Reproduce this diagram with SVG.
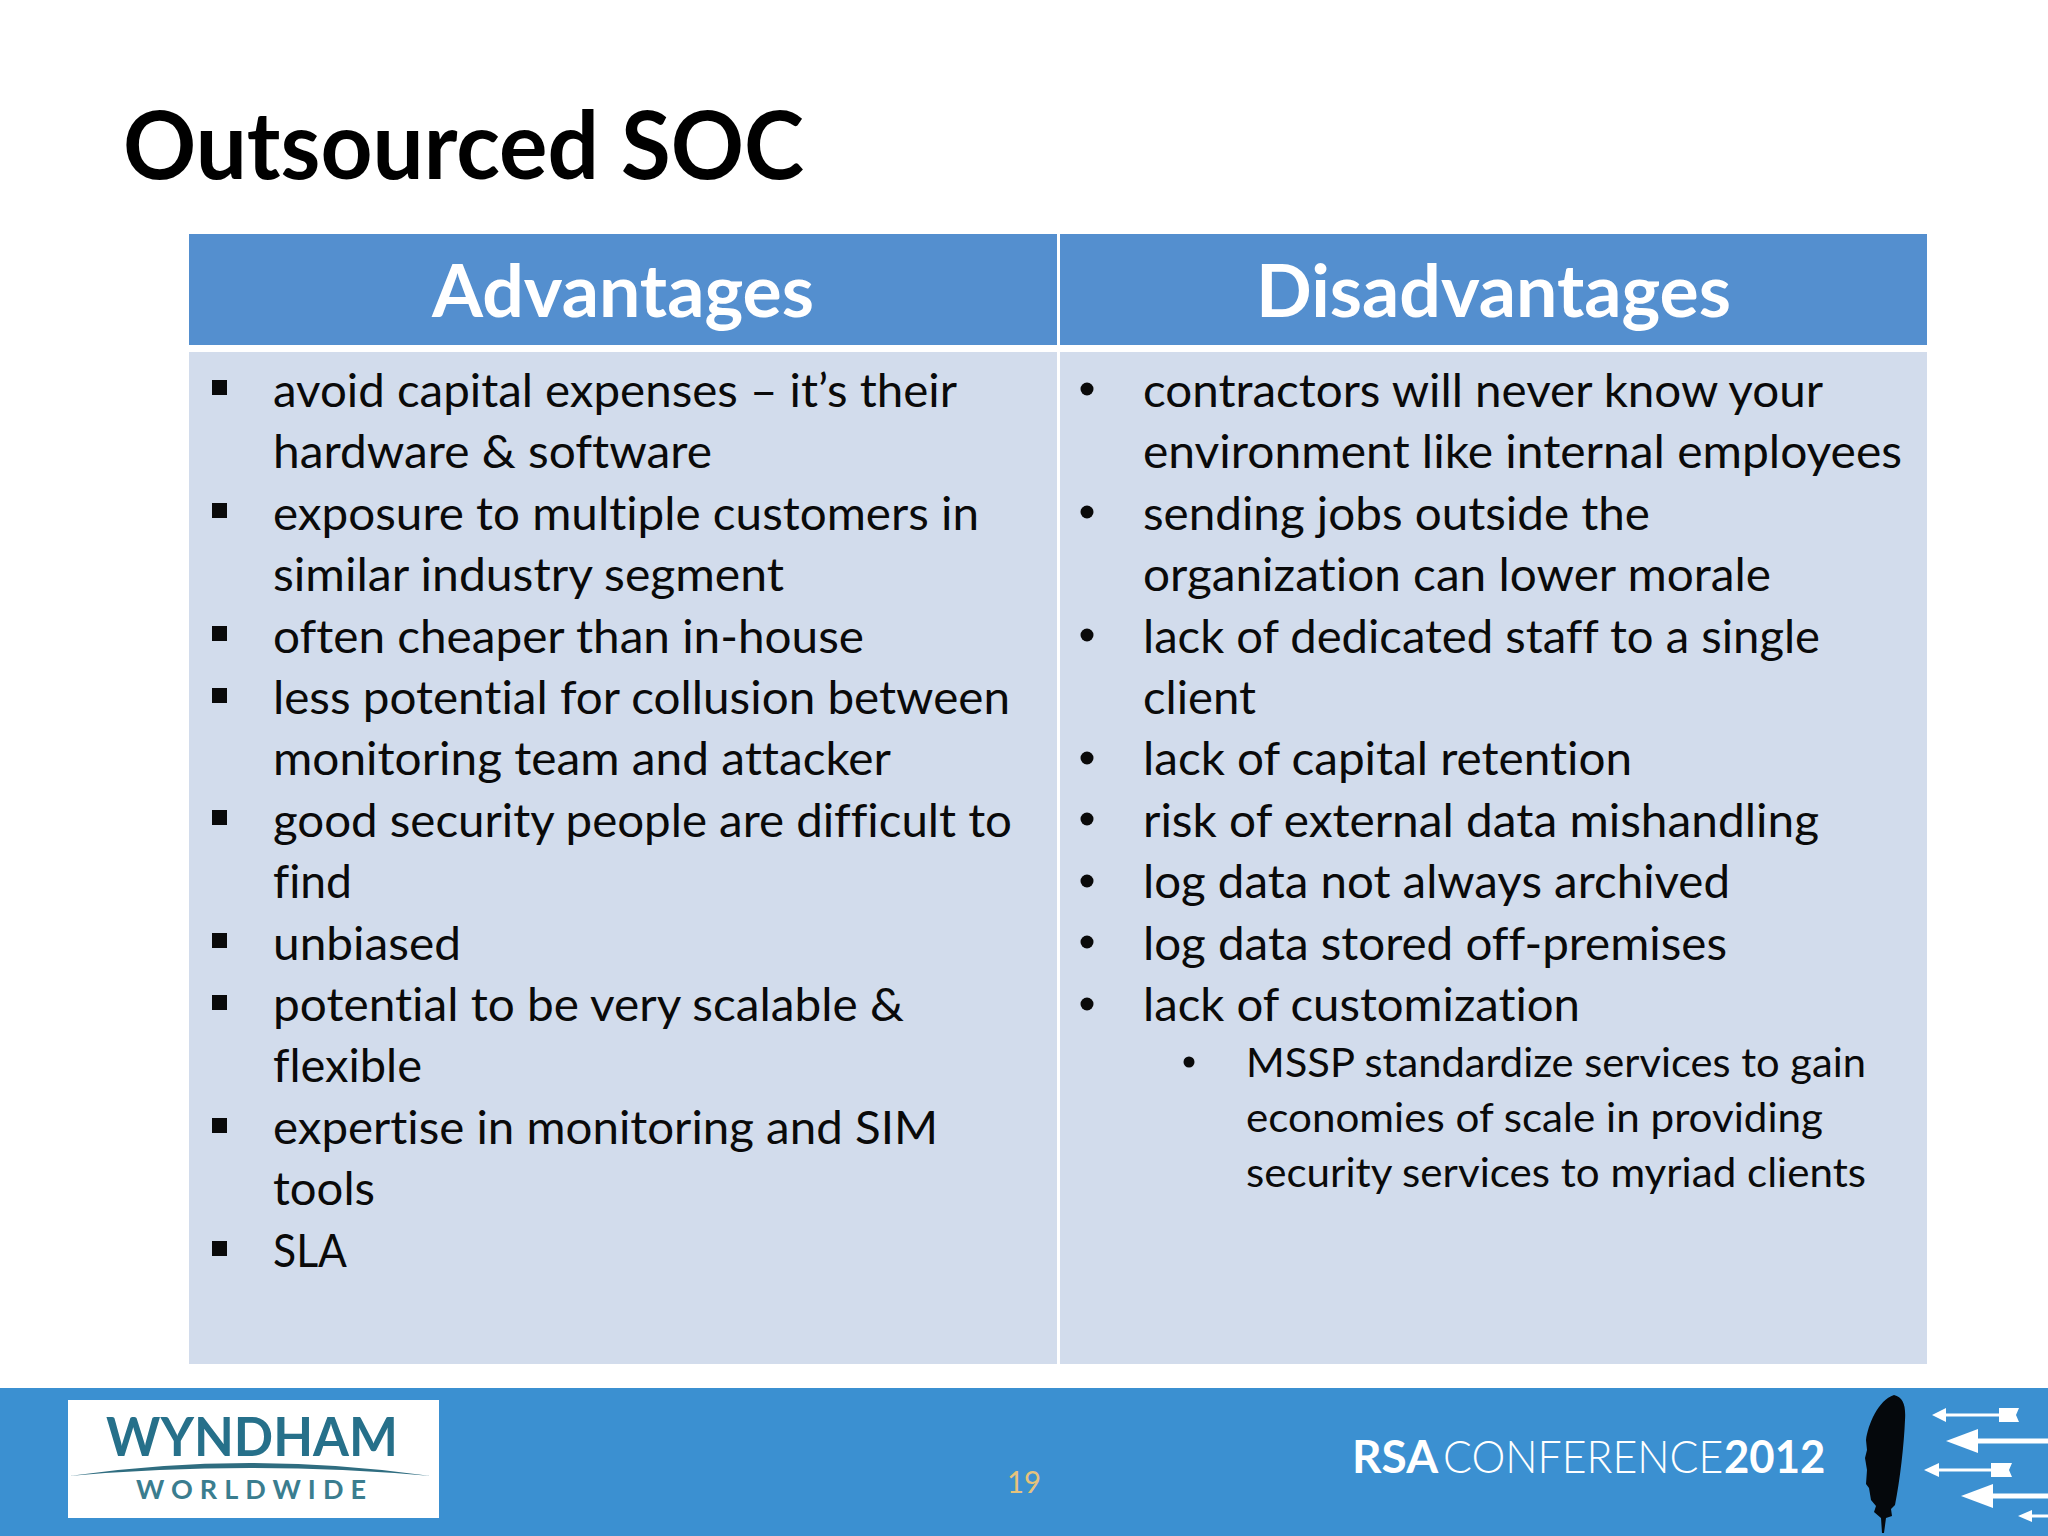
<svg xmlns="http://www.w3.org/2000/svg" width="2048" height="1536" viewBox="0 0 2048 1536">
<style>
text{font-family:Lato,"Open Sans",sans-serif;font-variant-ligatures:none}
.b{font-size:47px;fill:#0a0a0a}
.s{font-size:41px;fill:#0a0a0a}
.h{font-size:72px;font-weight:700;fill:#fff}
.head{fill:#548fcf}
.body{fill:#d2dcec}
.sq{fill:#0a0a0a}
.dot{fill:#0a0a0a}
.w{fill:#fff}
.shaft{stroke:#fff;fill:none}
</style>
<rect width="2048" height="1536" fill="#fff"/>
<text id="title" x="123" y="179" font-size="93" font-weight="700" fill="#000" textLength="681" lengthAdjust="spacingAndGlyphs">Outsourced SOC</text>
<g id="table">
<rect class="head" x="189" y="234" width="868" height="111"/>
<rect class="head" x="1060" y="234" width="867" height="111"/>
<rect class="body" x="189" y="352" width="868" height="1012"/>
<rect class="body" x="1060" y="352" width="867" height="1012"/>
<text class="h" x="432" y="317" textLength="382" lengthAdjust="spacingAndGlyphs">Advantages</text>
<text class="h" x="1256" y="317" textLength="475" lengthAdjust="spacingAndGlyphs">Disadvantages</text>
</g>
<g id="advantages">
<rect class="sq" x="212" y="380" width="15" height="15"/>
<rect class="sq" x="212" y="503" width="15" height="15"/>
<rect class="sq" x="212" y="626" width="15" height="15"/>
<rect class="sq" x="212" y="688" width="15" height="15"/>
<rect class="sq" x="212" y="810" width="15" height="15"/>
<rect class="sq" x="212" y="933" width="15" height="15"/>
<rect class="sq" x="212" y="995" width="15" height="15"/>
<rect class="sq" x="212" y="1118" width="15" height="15"/>
<rect class="sq" x="212" y="1241" width="15" height="15"/>
<text class="b" x="273" y="406.5" textLength="684" lengthAdjust="spacingAndGlyphs">avoid capital expenses – it’s their</text>
<text class="b" x="273" y="468" textLength="439" lengthAdjust="spacingAndGlyphs">hardware &amp; software</text>
<text class="b" x="273" y="529.5" textLength="706" lengthAdjust="spacingAndGlyphs">exposure to multiple customers in</text>
<text class="b" x="273" y="591" textLength="511" lengthAdjust="spacingAndGlyphs">similar industry segment</text>
<text class="b" x="273" y="652.5" textLength="591" lengthAdjust="spacingAndGlyphs">often cheaper than in-house</text>
<text class="b" x="273" y="714" textLength="737" lengthAdjust="spacingAndGlyphs">less potential for collusion between</text>
<text class="b" x="273" y="775" textLength="618" lengthAdjust="spacingAndGlyphs">monitoring team and attacker</text>
<text class="b" x="273" y="836.5" textLength="739" lengthAdjust="spacingAndGlyphs">good security people are difficult to</text>
<text class="b" x="273" y="898" textLength="79" lengthAdjust="spacingAndGlyphs">find</text>
<text class="b" x="273" y="959.5" textLength="188" lengthAdjust="spacingAndGlyphs">unbiased</text>
<text class="b" x="273" y="1021" textLength="631" lengthAdjust="spacingAndGlyphs">potential to be very scalable &amp;</text>
<text class="b" x="273" y="1082" textLength="149" lengthAdjust="spacingAndGlyphs">flexible</text>
<text class="b" x="273" y="1143.5" textLength="665" lengthAdjust="spacingAndGlyphs">expertise in monitoring and SIM</text>
<text class="b" x="273" y="1205" textLength="102" lengthAdjust="spacingAndGlyphs">tools</text>
<text class="b" x="273" y="1266.5" textLength="74" lengthAdjust="spacingAndGlyphs">SLA</text>
</g>
<g id="disadvantages">
<circle class="dot" cx="1087" cy="389" r="6.5"/>
<circle class="dot" cx="1087" cy="512" r="6.5"/>
<circle class="dot" cx="1087" cy="635" r="6.5"/>
<circle class="dot" cx="1087" cy="758" r="6.5"/>
<circle class="dot" cx="1087" cy="819" r="6.5"/>
<circle class="dot" cx="1087" cy="881" r="6.5"/>
<circle class="dot" cx="1087" cy="942" r="6.5"/>
<circle class="dot" cx="1087" cy="1004" r="6.5"/>
<circle class="dot" cx="1189" cy="1062" r="5.5"/>
<text class="b" x="1143" y="406.5" textLength="680" lengthAdjust="spacingAndGlyphs">contractors will never know your</text>
<text class="b" x="1143" y="468" textLength="759" lengthAdjust="spacingAndGlyphs">environment like internal employees</text>
<text class="b" x="1143" y="529.5" textLength="507" lengthAdjust="spacingAndGlyphs">sending jobs outside the</text>
<text class="b" x="1143" y="591" textLength="628" lengthAdjust="spacingAndGlyphs">organization can lower morale</text>
<text class="b" x="1143" y="652.5" textLength="677" lengthAdjust="spacingAndGlyphs">lack of dedicated staff to a single</text>
<text class="b" x="1143" y="714" textLength="113" lengthAdjust="spacingAndGlyphs">client</text>
<text class="b" x="1143" y="775" textLength="489" lengthAdjust="spacingAndGlyphs">lack of capital retention</text>
<text class="b" x="1143" y="836.5" textLength="676" lengthAdjust="spacingAndGlyphs">risk of external data mishandling</text>
<text class="b" x="1143" y="898" textLength="587" lengthAdjust="spacingAndGlyphs">log data not always archived</text>
<text class="b" x="1143" y="959.5" textLength="584" lengthAdjust="spacingAndGlyphs">log data stored off-premises</text>
<text class="b" x="1143" y="1021" textLength="437" lengthAdjust="spacingAndGlyphs">lack of customization</text>
<text class="s" x="1246" y="1076.5" textLength="620" lengthAdjust="spacingAndGlyphs">MSSP standardize services to gain</text>
<text class="s" x="1246" y="1131.5" textLength="577" lengthAdjust="spacingAndGlyphs">economies of scale in providing</text>
<text class="s" x="1246" y="1186.5" textLength="620" lengthAdjust="spacingAndGlyphs">security services to myriad clients</text>
</g>
<g id="footer">
<rect x="0" y="1388" width="2048" height="148" fill="#3b90d1"/>
<text x="1007" y="1493" font-size="30" fill="#e6c37c" textLength="34" lengthAdjust="spacingAndGlyphs">19</text>
</g>
<g id="wyndham-logo">
<rect x="68" y="1400" width="371" height="118" fill="#fff"/>
<text x="106" y="1456" font-size="53" font-weight="700" fill="#26708a" textLength="292" lengthAdjust="spacingAndGlyphs">WYNDHAM</text>
<path d="M69 1476Q250 1450 431 1476Q250 1460 69 1476Z" fill="#2f6d80"/>
<text x="136" y="1499" font-size="27" font-weight="700" fill="#3a7d8f" textLength="230" lengthAdjust="spacing">WORLDWIDE</text>
</g>
<g id="rsa-logo">
<text transform="translate(1352 1473)" font-size="46" font-weight="700" fill="#fff">RSA</text>
<text transform="translate(1443 1473) scale(.93 1)" font-size="46" font-weight="300" fill="#fff">CONFERENCE</text>
<text transform="translate(1724 1473) scale(.95 1)" font-size="46" font-weight="700" fill="#fff">2012</text>
</g>
<g id="feather">
<path d="M1894 1395C1903 1397 1906 1405 1905 1420C1904 1445 1900 1480 1895 1505L1891 1509L1892 1516L1886 1518L1884 1533L1882 1533L1881 1518L1874 1512L1876 1506L1871 1500L1869 1488L1866 1484L1867 1470L1865 1458L1867 1450L1866 1440C1868 1425 1878 1400 1894 1395Z" fill="#05080c"/>
</g>
<g id="arrows">
<path class="w" d="M1932 1415L1946 1408V1422Z"/><path class="shaft" stroke-width="3" d="M1944 1415H2000"/><path class="w" d="M1999 1408H2019L2016 1415L2019 1422H1999Z"/>
<path class="w" d="M1946 1441L1978 1429V1453Z"/><path class="shaft" stroke-width="5" d="M1976 1441H2048"/>
<path class="w" d="M1924 1470L1939 1463V1477Z"/><path class="shaft" stroke-width="3" d="M1937 1470H1992"/><path class="w" d="M1991 1463H2012L2009 1470L2012 1477H1991Z"/>
<path class="w" d="M1961 1496L1993 1484V1508Z"/><path class="shaft" stroke-width="5" d="M1991 1496H2048"/>
<path class="w" d="M2018 1516L2032 1510V1522Z"/><path class="shaft" stroke-width="3" d="M2030 1516H2048"/>
</g>
</svg>
